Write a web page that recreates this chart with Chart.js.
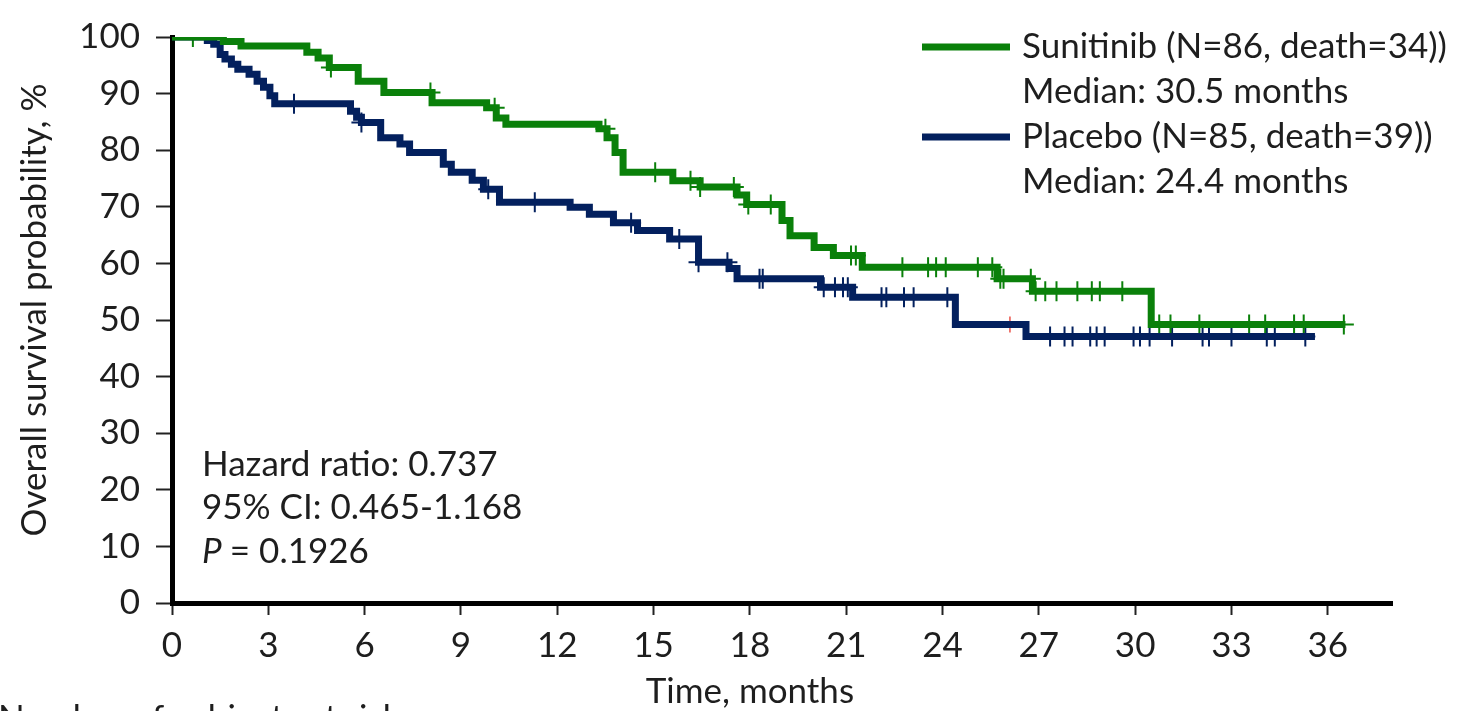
<!DOCTYPE html>
<html>
<head>
<meta charset="utf-8">
<script src="https://cdn.jsdelivr.net/npm/chart.js@4.4.1/dist/chart.umd.min.js"></script>
<style>
  html, body { margin: 0; padding: 0; background: #fff; }
  #wrap { width: 1457px; height: 711px; position: relative; overflow: hidden; }
</style>
</head>
<body>
<div id="wrap"><canvas id="kmChart" width="1457" height="711"></canvas></div>
<script>
// Kaplan-Meier steps: time (months) and survival (%) after each drop
const sunitinibTime = [0, 1.6, 2.15, 4.2, 4.55, 4.9, 5.8, 6.6, 8.1, 9.8, 10.1, 10.4, 13.3, 13.55, 13.8, 14.05, 15.6, 16.45, 17.6, 17.9, 19.0, 19.25, 20.0, 20.6, 21.5, 25.7, 26.8, 30.5, 36.55];
const sunitinibSurv = [100, 99.2, 98.4, 97.3, 96.3, 94.6, 92.2, 90.2, 88.4, 87.5, 85.7, 84.6, 83.8, 82.2, 79.6, 76.1, 74.6, 73.5, 72.1, 70.4, 67.6, 64.9, 62.8, 61.4, 59.3, 57.3, 55.1, 49.2, 49.2];

const placeboTime = [0, 1.1, 1.3, 1.5, 1.65, 1.85, 2.05, 2.4, 2.65, 2.85, 3.05, 3.2, 5.56, 5.75, 5.9, 6.5, 7.1, 7.4, 8.45, 8.7, 9.35, 9.7, 10.2, 12.4, 13.0, 13.75, 14.5, 15.5, 16.4, 17.35, 17.6, 20.2, 21.2, 24.4, 26.6, 35.6];
const placeboSurv = [100, 99.4, 98.7, 96.9, 96.1, 95.2, 94.3, 93.4, 92.2, 91.1, 89.6, 88.2, 86.9, 85.8, 84.9, 82.2, 81.1, 79.6, 77.5, 76.1, 74.7, 73.1, 70.8, 69.9, 68.7, 67.2, 65.8, 64.3, 60.2, 59.1, 57.3, 55.8, 54.0, 49.2, 47.1, 47.1];

// censored observations (months)
const sunitinibCensor = [0.65, 4.95, 8.05, 10.05, 13.5, 15.05, 16.15, 16.45, 17.5, 17.95, 18.65, 21.15, 21.3, 22.75, 23.55, 23.8, 24.1, 25.1, 25.55, 25.8, 25.9, 26.75, 26.9, 27.2, 27.55, 28.2, 28.65, 28.9, 29.6, 30.75, 31.1, 32.0, 33.55, 34.05, 34.95, 35.25, 36.5];
const placeboCensor = [3.8, 5.9, 9.85, 11.3, 14.3, 15.8, 16.4, 17.3, 18.3, 18.4, 20.3, 20.65, 20.9, 21.05, 22.1, 22.25, 22.8, 23.1, 24.15, 27.35, 27.8, 28.05, 28.6, 28.8, 29.05, 29.95, 30.15, 30.45, 31.15, 32.1, 32.3, 33.0, 34.1, 34.35, 35.3];
const flaggedCensor = [26.1];

const xTicks = [0, 3, 6, 9, 12, 15, 18, 21, 24, 27, 30, 33, 36];
const yTicks = [0, 10, 20, 30, 40, 50, 60, 70, 80, 90, 100];

const legendLines = [
  ["Sunitinib (N=86, death=34))", "Median: 30.5 months"],
  ["Placebo (N=85, death=39))", "Median: 24.4 months"],
];
const statsLines = ["Hazard ratio: 0.737", "95% CI: 0.465-1.168", "= 0.1926"];

const GREEN = "#0a800a";
const NAVY = "#03205e";
const TEXT = "#1e1e1e";
const FONT = "Lato, 'Open Sans', sans-serif";
const FONT_SIZE = 35;

function steps(times, surv) {
  return times.map((t, i) => ({ x: t, y: surv[i] }));
}

// survival value in effect at time t
function survAt(times, surv, t) {
  let v = surv[0];
  for (let i = 0; i < times.length; i++) {
    if (times[i] <= t) v = surv[i];
  }
  return v;
}

function censorPoints(censor, times, surv) {
  return censor.map((t) => ({ x: t, y: survAt(times, surv, t) }));
}

const textPlugin = {
  id: "kmText",
  afterDraw(chart) {
    const ctx = chart.ctx;
    const xs = chart.scales.x;
    const font = FONT_SIZE + "px " + FONT;
    ctx.save();
    ctx.fillStyle = TEXT;
    ctx.textBaseline = "middle";

    // legend
    ctx.font = font;
    ctx.textAlign = "left";
    const colors = [GREEN, NAVY];
    legendLines.forEach((lines, i) => {
      const y0 = 47 + i * 90;
      ctx.strokeStyle = colors[i];
      ctx.lineWidth = 7;
      ctx.beginPath();
      ctx.moveTo(922, y0);
      ctx.lineTo(1010, y0);
      ctx.stroke();
      ctx.fillText(lines[0], 1022, y0);
      ctx.fillText(lines[1], 1022, y0 + 45);
    });

    // hazard ratio block
    ctx.fillText(statsLines[0], 202, 465);
    ctx.fillText(statsLines[1], 202, 508);
    ctx.font = "italic " + font;
    ctx.fillText("P", 202, 552);
    const pw = ctx.measureText("P ").width;
    ctx.font = font;
    ctx.fillText(statsLines[2], 202 + pw, 552);

    // axis titles
    ctx.textAlign = "center";
    ctx.fillText("Time, months", xs.getPixelForValue(18), 692);
    ctx.save();
    ctx.translate(35, 310);
    ctx.rotate(-Math.PI / 2);
    ctx.fillText("Overall survival probability, %", 0, 0);
    ctx.restore();

    // risk table heading, mostly below the frame
    ctx.textAlign = "left";
    ctx.textBaseline = "top";
    ctx.fillText("Number of subjects at risk", -2, 701);
    ctx.restore();
  },
};

new Chart(document.getElementById("kmChart").getContext("2d"), {
  type: "line",
  data: {
    datasets: [
      {
        label: "Sunitinib",
        data: steps(sunitinibTime, sunitinibSurv),
        borderColor: GREEN,
        borderWidth: 7,
        stepped: "before",
        pointRadius: 0,
        fill: false,
      },
      {
        label: "Placebo",
        data: steps(placeboTime, placeboSurv),
        borderColor: NAVY,
        borderWidth: 7,
        stepped: "before",
        pointRadius: 0,
        fill: false,
      },
      {
        label: "Sunitinib censored",
        data: censorPoints(sunitinibCensor, sunitinibTime, sunitinibSurv),
        showLine: false,
        pointStyle: "cross",
        pointRadius: 10,
        pointBorderWidth: 2,
        borderColor: GREEN,
      },
      {
        label: "Placebo censored",
        data: censorPoints(placeboCensor, placeboTime, placeboSurv),
        showLine: false,
        pointStyle: "cross",
        pointRadius: 10,
        pointBorderWidth: 2,
        borderColor: NAVY,
      },
      {
        label: "Flagged",
        data: censorPoints(flaggedCensor, placeboTime, placeboSurv),
        showLine: false,
        pointStyle: "line",
        rotation: 90,
        pointRadius: 8,
        pointBorderWidth: 1.4,
        borderColor: "#e8443a",
      },
    ],
  },
  plugins: [textPlugin],
  options: {
    responsive: false,
    animation: false,
    layout: {
      padding: { left: 0, top: 36, right: 65, bottom: 0 },
    },
    plugins: {
      legend: { display: false },
      tooltip: { enabled: false },
    },
    scales: {
      x: {
        type: "linear",
        min: 0,
        max: 38,
        afterFit: (scale) => {
          scale.height = 108;
        },
        afterBuildTicks: (scale) => {
          scale.ticks = xTicks.map((v) => ({ value: v }));
        },
        border: { display: true, color: "#000", width: 5 },
        grid: {
          drawOnChartArea: false,
          drawTicks: true,
          tickLength: 12,
          tickWidth: 2,
          color: "#222",
        },
        ticks: {
          font: { size: FONT_SIZE, family: FONT },
          color: TEXT,
          padding: 10,
          maxRotation: 0,
        },
      },
      y: {
        type: "linear",
        min: 0,
        max: 100,
        afterFit: (scale) => {
          scale.width = 172;
        },
        afterBuildTicks: (scale) => {
          scale.ticks = yTicks.map((v) => ({ value: v }));
        },
        border: { display: true, color: "#000", width: 5 },
        grid: {
          drawOnChartArea: false,
          drawTicks: true,
          tickLength: 16,
          tickWidth: 2,
          color: "#222",
        },
        ticks: {
          font: { size: FONT_SIZE, family: FONT },
          color: TEXT,
          padding: 16,
        },
      },
    },
  },
});
</script>
</body>
</html>
